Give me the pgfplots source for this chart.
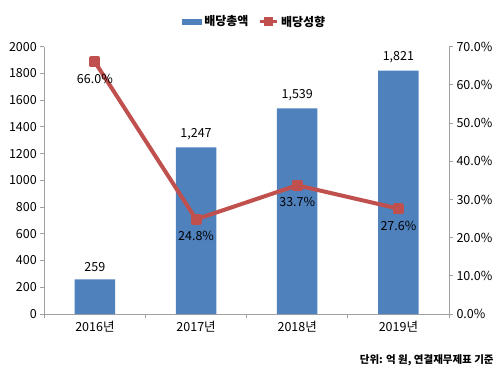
\documentclass[border=0pt]{standalone}
\usepackage{pgfplots}
\pgfplotsset{compat=1.18}
\usepackage{fontspec}
\setmainfont{Noto Sans CJK KR}
\definecolor{barblue}{RGB}{79,129,189}
\definecolor{linered}{RGB}{192,80,77}
\definecolor{axgray}{RGB}{160,160,160}
\begin{document}
\begin{tikzpicture}[x=1pt,y=1pt]
\pgfplotsset{
  base/.style={
    at={(0,0)}, anchor=south west, scale only axis,
    width=404.7pt, height=267.3pt,
    xmin=-0.5, xmax=3.5,
    axis line style={axgray, line width=0.8pt},
    tick style={axgray, line width=0.8pt},
    tick align=outside, major tick length=4pt,
    tick label style={font=\fontsize{12.5}{14}\selectfont, text=black},
    /pgf/number format/assume math mode=true,
    clip=false,
  }
}
\begin{axis}[base,
  axis y line*=left, axis x line*=bottom,
  ymin=0, ymax=2000, ytick={0,200,...,2000},
  yticklabel style={/pgf/number format/1000 sep={}},
  xtick={-0.5,0.5,1.5,2.5,3.5}, x tick label as interval,
  xticklabels={2016년,2017년,2018년,2019년},
  legend style={at={(0.52,1)}, anchor=south, yshift=15pt, draw=none,
    font=\bfseries\fontsize{12}{14}\selectfont, legend columns=2,
    /tikz/every even column/.append style={column sep=8pt}},
]
\addplot[ybar, bar width=40.5pt, fill=barblue, draw=none,
  nodes near coords={\pgfmathprintnumber[1000 sep={,}]{\pgfplotspointmeta}},
  nodes near coords style={font=\fontsize{12.5}{14}\selectfont, text=black, yshift=4pt},
  legend image code/.code={\fill[barblue] (0pt,-3pt) rectangle (20pt,3pt);}]
  coordinates {(0,259) (1,1247) (2,1539) (3,1821)};
\addlegendentry{배당총액}
\addlegendimage{linered, line width=3.5pt, mark=square*, mark size=3pt}
\addlegendentry{배당성향}
\node[anchor=east, font=\bfseries\fontsize{10.5}{13}\selectfont] at (rel axis cs:1.119,-0.172) {단위: 억 원, 연결재무제표 기준};
\end{axis}
\begin{axis}[base,
  axis y line*=right, axis x line=none,
  ymin=0, ymax=70, ytick={0,10,...,70},
  yticklabel={\pgfmathprintnumber[fixed,fixed zerofill,precision=1]{\tick}\%},
]
\addplot[linered, line width=4pt, line join=round, mark=square*, mark size=3.5pt,
  nodes near coords={\pgfmathprintnumber[fixed,fixed zerofill,precision=1]{\pgfplotspointmeta}\%},
  nodes near coords style={font=\fontsize{12.5}{14}\selectfont, text=black, anchor=north, yshift=-7pt}]
  coordinates {(0,66.0) (1,24.8) (2,33.7) (3,27.6)};
\end{axis}
\pgfresetboundingbox
\path (-44.3,-58) rectangle (455.7,314);
\end{tikzpicture}
\end{document}
